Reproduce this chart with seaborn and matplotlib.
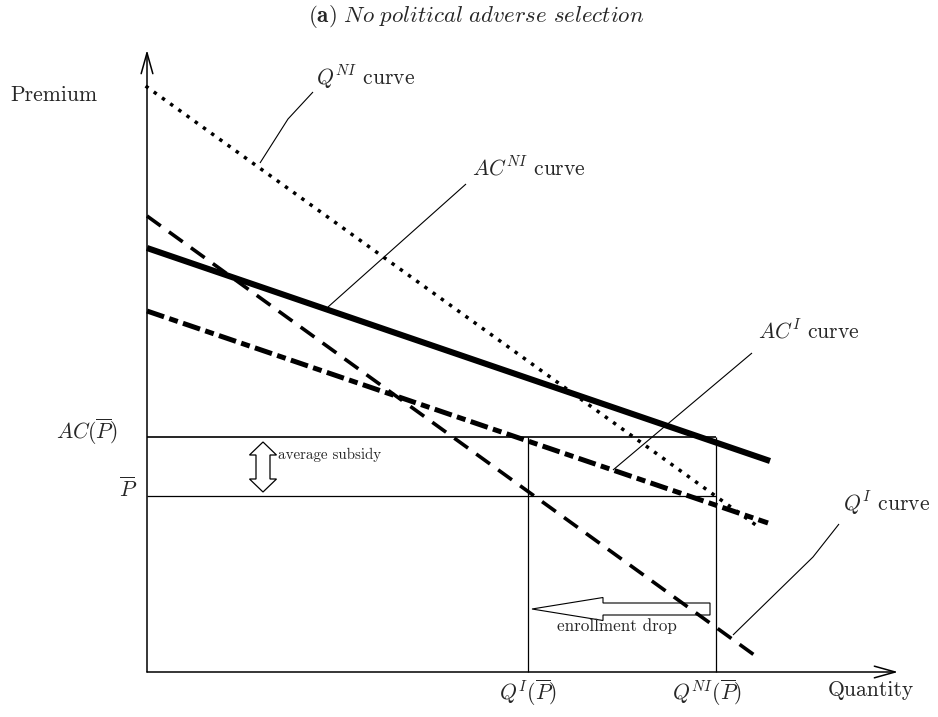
import numpy as np
import pandas as pd
import matplotlib
matplotlib.use("Agg")
import matplotlib.pyplot as plt
import seaborn as sns
from matplotlib.patches import Polygon, FancyArrow

sns.set_style("white")
plt.rcParams['font.family'] = ['cmr10']
plt.rcParams['mathtext.fontset'] = 'cm'
plt.rcParams['axes.unicode_minus'] = False

# ---- data (schematic units) ----
curve_names = ["QNI", "ACNI", "ACI", "QI"]
qni_x = [0.0, 61.3]
qni_y = [58.5, 14.4]
acni_x = [0.0, 62.3]
acni_y = [42.4, 21.1]
aci_x = [0.0, 62.1]
aci_y = [36.1, 14.9]
qi_x = [0.0, 61.0]
qi_y = [45.6, 1.5]

p_bar = 17.6          # subsidised premium
ac_p_bar = 23.5       # average cost at P-bar
q_i_pbar = 38.1       # Q^I(P-bar)
q_ni_pbar = 56.9      # Q^NI(P-bar)
x_axis_end = 75.1
y_axis_end = 62.2

# leader lines
lead_qni_x = [11.3, 14.1, 16.6]
lead_qni_y = [50.9, 55.3, 58.0]
lead_acni_x = [18.1, 31.9]
lead_acni_y = [36.5, 48.8]
lead_aci_x = [46.6, 60.5]
lead_aci_y = [20.2, 31.9]
lead_qi_x = [58.6, 66.6, 69.2]
lead_qi_y = [3.7, 11.5, 14.8]

fig = plt.figure(figsize=(9.38, 7.17), dpi=100)
ax = fig.add_axes([0, 0, 1, 1])
ax.set_xlim(-14.7, 79.1)
ax.set_ylim(-4.5, 67.2)
ax.axis("off")

def draw(x, y, lw, dashes=None, cap="butt"):
    sns.lineplot(x=x, y=y, ax=ax, color="black", lw=lw, sort=False,
                 estimator=None)
    ln = ax.lines[-1]
    if dashes is not None:
        ln.set_dashes(dashes)
    ln.set_dash_capstyle(cap)
    ln.set_solid_capstyle("butt")

# curves
draw(qni_x, qni_y, 2.5, dashes=(0.01, 2.9), cap="round")
ax.lines[-1].set_dash_capstyle("projecting")
draw(acni_x, acni_y, 4.4)
draw(aci_x, aci_y, 3.6, dashes=(3.6, 1.1, 1.8, 1.1))
draw(qi_x, qi_y, 2.6, dashes=(4.7, 2.8))

# rectangle lines
draw([0, q_ni_pbar], [ac_p_bar, ac_p_bar], 1.2)
draw([0, q_ni_pbar], [p_bar, p_bar], 0.9)
draw([q_i_pbar, q_i_pbar], [0, ac_p_bar], 0.9)
draw([q_ni_pbar, q_ni_pbar], [0, ac_p_bar], 0.9)

# leader lines
for lx, ly in [(lead_qni_x, lead_qni_y), (lead_acni_x, lead_acni_y),
               (lead_aci_x, lead_aci_y), (lead_qi_x, lead_qi_y)]:
    draw(lx, ly, 0.8)

# axes with open arrows
arrow_kw = dict(arrowstyle="->,head_length=1.5,head_width=0.42",
                lw=1.1, color="black", mutation_scale=10,
                shrinkA=0, shrinkB=0)
ax.annotate("", xy=(x_axis_end, 0), xytext=(0, 0), arrowprops=arrow_kw)
ax.annotate("", xy=(0, y_axis_end), xytext=(0, 0), arrowprops=arrow_kw)

# enrollment drop hollow arrow
ed_tail, ed_tip, ed_y = 56.3, 38.5, 6.3
ax.add_patch(FancyArrow(ed_tail, ed_y, ed_tip - ed_tail, 0, width=1.2,
                        head_width=2.3, head_length=7.1,
                        length_includes_head=True, fc="white",
                        ec="black", lw=0.8))

# average subsidy double hollow arrow
ds_x, ds_top, ds_bot = 11.6, ac_p_bar - 0.5, p_bar + 0.4
ds_body, ds_head, ds_hl = 0.7, 1.35, 1.3
verts = [(ds_x, ds_top), (ds_x + ds_head, ds_top - ds_hl),
         (ds_x + ds_body, ds_top - ds_hl), (ds_x + ds_body, ds_bot + ds_hl),
         (ds_x + ds_head, ds_bot + ds_hl), (ds_x, ds_bot),
         (ds_x - ds_head, ds_bot + ds_hl), (ds_x - ds_body, ds_bot + ds_hl),
         (ds_x - ds_body, ds_top - ds_hl), (ds_x - ds_head, ds_top - ds_hl)]
ax.add_patch(Polygon(verts, closed=True, fc="white", ec="black", lw=0.9))

# texts
ax.text(32.9, 65.6,
        r"$\mathbf{(a)}\ \mathit{No\ political\ adverse\ selection}$",
        ha="center", va="center", fontsize=16.5)
ax.text(-13.7, 57.7, "Premium", ha="left", va="center", fontsize=15.5)
ax.text(16.9, 59.5, r"$Q^{NI}$ curve", ha="left", va="center", fontsize=15.5)
ax.text(32.5, 50.5, r"$AC^{NI}$ curve", ha="left", va="center", fontsize=15.5)
ax.text(61.1, 34.2, r"$AC^{I}$ curve", ha="left", va="center", fontsize=15.5)
ax.text(69.6, 16.9, r"$Q^{I}$ curve", ha="left", va="center", fontsize=15.5)
ax.text(-2.9, 24.0, r"$AC(\overline{P})$", ha="right", va="center", fontsize=15.5)
ax.text(-1.0, 18.3, r"$\overline{P}$", ha="right", va="center", fontsize=15.5)
ax.text(q_i_pbar, -2.1, r"$Q^{I}(\overline{P})$", ha="center", va="center", fontsize=15.5)
ax.text(56.0, -2.1, r"$Q^{NI}(\overline{P})$", ha="center", va="center", fontsize=15.5)
ax.text(68.1, -1.8, "Quantity", ha="left", va="center", fontsize=15.5)
ax.text(13.1, 21.7, "average subsidy", ha="left", va="center", fontsize=10.8)
ax.text(47.0, 4.6, "enrollment drop", ha="center", va="center", fontsize=12.3)

fig.savefig("out.png", dpi=100)
